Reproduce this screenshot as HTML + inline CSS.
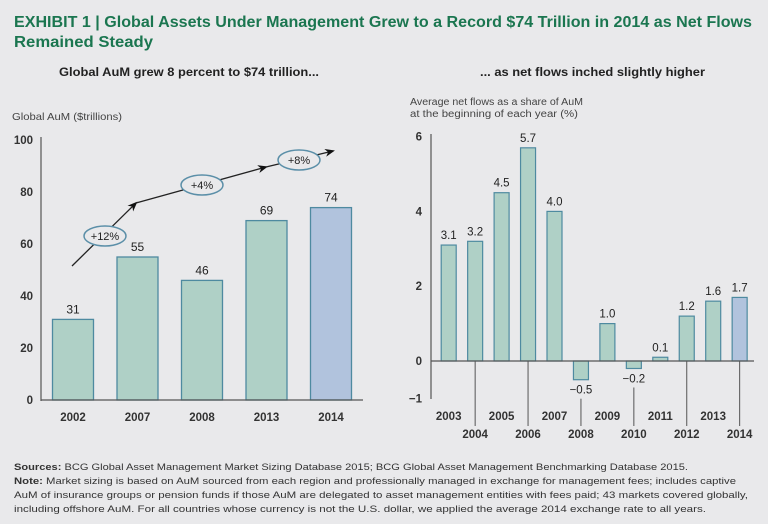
<!DOCTYPE html>
<html><head><meta charset="utf-8"><style>
body{margin:0;background:#e9e9eb;}
svg{display:block;font-family:"Liberation Sans",sans-serif;}
</style></head><body>
<svg id="c" width="768" height="524" viewBox="0 0 768 524">
<rect width="768" height="524" fill="#e9e9eb"/>
<text x="14" y="27" font-size="15.5" font-weight="bold" fill="#1b7650" textLength="738" lengthAdjust="spacingAndGlyphs">EXHIBIT 1 | Global Assets Under Management Grew to a Record $74 Trillion in 2014 as Net Flows</text>
<text x="14" y="47" font-size="15.5" font-weight="bold" fill="#1b7650" textLength="139" lengthAdjust="spacingAndGlyphs">Remained Steady</text>
<text x="59" y="76" font-size="12" font-weight="bold" fill="#222" textLength="260" lengthAdjust="spacingAndGlyphs">Global AuM grew 8 percent to $74 trillion...</text>
<text x="480" y="76" font-size="12" font-weight="bold" fill="#222" textLength="225" lengthAdjust="spacingAndGlyphs">... as net flows inched slightly higher</text>
<text x="12" y="120" font-size="10.5" fill="#444" textLength="110" lengthAdjust="spacingAndGlyphs">Global AuM ($trillions)</text>
<text x="410" y="105" font-size="10" fill="#444" textLength="173" lengthAdjust="spacingAndGlyphs">Average net flows as a share of AuM</text>
<text x="410" y="117" font-size="10" fill="#444" textLength="168" lengthAdjust="spacingAndGlyphs">at the beginning of each year (%)</text>
<g id="left"></g>
<g id="right"></g>
<text x="14" y="470" font-size="9.5" fill="#333" textLength="674" lengthAdjust="spacingAndGlyphs"><tspan font-weight="bold">Sources:</tspan> BCG Global Asset Management Market Sizing Database 2015; BCG Global Asset Management Benchmarking Database 2015.</text>
<text x="14" y="484" font-size="9.5" fill="#333" textLength="722" lengthAdjust="spacingAndGlyphs"><tspan font-weight="bold">Note:</tspan> Market sizing is based on AuM sourced from each region and professionally managed in exchange for management fees; includes captive</text>
<text x="14" y="498" font-size="9.5" fill="#333" textLength="734" lengthAdjust="spacingAndGlyphs">AuM of insurance groups or pension funds if those AuM are delegated to asset management entities with fees paid; 43 markets covered globally,</text>
<text x="14" y="512" font-size="9.5" fill="#333" textLength="692" lengthAdjust="spacingAndGlyphs">including offshore AuM. For all countries whose currency is not the U.S. dollar, we applied the average 2014 exchange rate to all years.</text>
</svg>
<script>
const leftCats=["2002","2007","2008","2013","2014"];
const leftVals=[31,55,46,69,74];
const leftTicks=[0,20,40,60,80,100];
const rightCats=["2003","2004","2005","2006","2007","2008","2009","2010","2011","2012","2013","2014"];
const rightVals=[3.1,3.2,4.5,5.7,4.0,-0.5,1.0,-0.2,0.1,1.2,1.6,1.7];
const rightLabels=["3.1","3.2","4.5","5.7","4.0","\u22120.5","1.0","\u22120.2","0.1","1.2","1.6","1.7"];
const rightTicks=[-1,0,2,4,6];
const growthLabels=["+12%","+4%","+8%"];

const NS="http://www.w3.org/2000/svg";
function mk(p,t,a,txt){const e=document.createElementNS(NS,t);for(const k in a)e.setAttribute(k,a[k]);if(txt!==undefined)e.textContent=txt;p.appendChild(e);return e;}
const green="#afd0c6",greenS="#4e8aa0",blue="#b1c3dd";

// left chart
const L=document.getElementById('left');
const ly=v=>400-v*2.6;
const lx=i=>73+i*64.5;
let e=mk(L,'line',{x1:41,y1:137,x2:41,y2:401,stroke:'#555','stroke-width':1.2});

leftTicks.forEach(t=>{const tx=mk(L,'text',{x:33,y:ly(t)+4,'font-size':11.5,'font-weight':'bold',fill:'#333','text-anchor':'end'},String(t));
});
leftVals.forEach((v,i)=>{const last=i===leftVals.length-1;
 const r=mk(L,'rect',{x:lx(i)-20.5,y:ly(v),width:41,height:400-ly(v),fill:last?blue:green,stroke:greenS,'stroke-width':1.3});
 
 const t=mk(L,'text',{x:lx(i),y:ly(v)-6,'font-size':12,fill:'#222','text-anchor':'middle'},String(v));
 
 const c=mk(L,'text',{x:lx(i),y:421,'font-size':11.5,'font-weight':'bold',fill:'#333','text-anchor':'middle'},leftCats[i]);
 });
e=mk(L,'line',{x1:41,y1:400,x2:363,y2:400,stroke:'#555','stroke-width':1.2});

const defs=mk(L,'defs',{});const m=mk(defs,'marker',{id:'ah',markerWidth:10,markerHeight:8,refX:8,refY:4,orient:'auto',markerUnits:'userSpaceOnUse'});
mk(m,'path',{d:'M0,0 L10,4 L0,8 L3,4 Z',fill:'#111'});
const segs=[[72,266,136,203],[136,203,266,167],[266,167,333,151]];
segs.forEach((s,i)=>{const l=mk(L,'line',{x1:s[0],y1:s[1],x2:s[2],y2:s[3],stroke:'#222','stroke-width':1.3,'marker-end':'url(#ah)'});
 });
const ell=[[105,236],[202,185],[299,160]];
ell.forEach((p,i)=>{const el=mk(L,'ellipse',{cx:p[0],cy:p[1],rx:21,ry:10,fill:'#e9e9eb',stroke:'#5b8fa8','stroke-width':1.5});
 
 const t=mk(L,'text',{x:p[0],y:p[1]+4,'font-size':11,fill:'#222','text-anchor':'middle'},growthLabels[i]);
 });

// right chart
const R=document.getElementById('right');
const ry=v=>361-v*37.4;
const rx=i=>448.7+i*26.45;
e=mk(R,'line',{x1:431,y1:134,x2:431,y2:399,stroke:'#555','stroke-width':1.2});

rightTicks.forEach(t=>{const tx=mk(R,'text',{x:422,y:ry(t)+4,'font-size':11.5,'font-weight':'bold',fill:'#333','text-anchor':'end'},t<0?'\u2212'+Math.abs(t):String(t));
 });
rightVals.forEach((v,i)=>{const last=i===rightVals.length-1;
 const y0=Math.min(ry(v),ry(0)),h=Math.abs(ry(v)-ry(0));
 const r=mk(R,'rect',{x:rx(i)-7.5,y:y0,width:15,height:h,fill:last?blue:green,stroke:greenS,'stroke-width':1.2});
 
 const ty=v>=0?ry(v)-6:ry(v)+14;
 const t=mk(R,'text',{x:rx(i),y:ty,'font-size':11.5,fill:'#222','text-anchor':'middle'},rightLabels[i]);
 
 const even=i%2===1;
 if(even){const top=v>=0?ry(0):ry(v)+19;
  const ln=mk(R,'line',{x1:rx(i),y1:top,x2:rx(i),y2:426,stroke:'#555','stroke-width':1});
  }
 const c=mk(R,'text',{x:rx(i),y:even?438:420,'font-size':11.5,'font-weight':'bold',fill:'#333','text-anchor':'middle'},rightCats[i]);
 });
e=mk(R,'line',{x1:431,y1:361,x2:754,y2:361,stroke:'#555','stroke-width':1.2});

</script>
</body></html>
